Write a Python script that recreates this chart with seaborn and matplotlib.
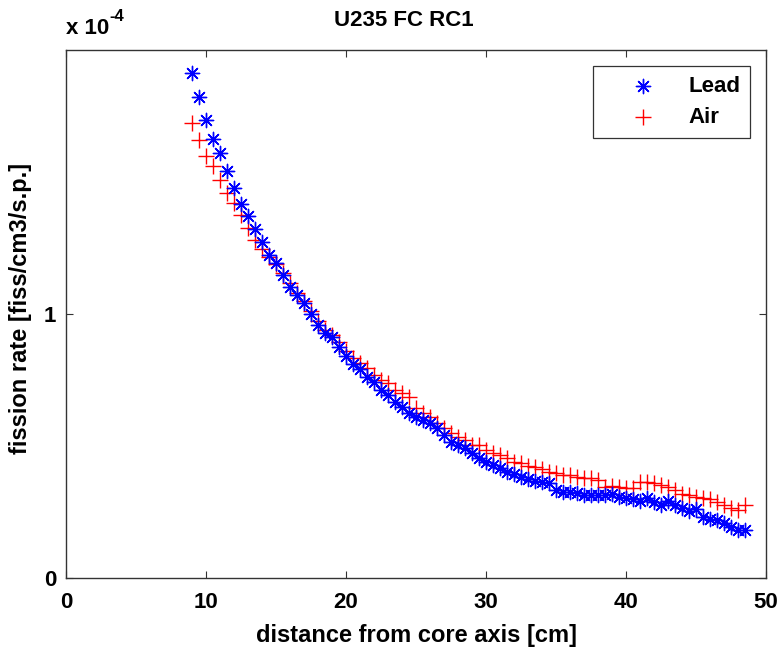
import numpy as np
import pandas as pd
import matplotlib
matplotlib.use("Agg")
import matplotlib.pyplot as plt
import seaborn as sns

# distance from core axis [cm]
distance = [9.0, 9.5, 10.0, 10.5, 11.0, 11.5, 12.0, 12.5, 13.0, 13.5,
            14.0, 14.5, 15.0, 15.5, 16.0, 16.5, 17.0, 17.5, 18.0, 18.5,
            19.0, 19.5, 20.0, 20.5, 21.0, 21.5, 22.0, 22.5, 23.0, 23.5,
            24.0, 24.5, 25.0, 25.5, 26.0, 26.5, 27.0, 27.5, 28.0, 28.5,
            29.0, 29.5, 30.0, 30.5, 31.0, 31.5, 32.0, 32.5, 33.0, 33.5,
            34.0, 34.5, 35.0, 35.5, 36.0, 36.5, 37.0, 37.5, 38.0, 38.5,
            39.0, 39.5, 40.0, 40.5, 41.0, 41.5, 42.0, 42.5, 43.0, 43.5,
            44.0, 44.5, 45.0, 45.5, 46.0, 46.5, 47.0, 47.5, 48.0, 48.5]

# fission rate, units of 1e-4 fiss/cm3/s.p.
lead = [1.913, 1.822, 1.735, 1.663, 1.610, 1.542, 1.477, 1.417, 1.371, 1.322,
        1.273, 1.223, 1.193, 1.148, 1.102, 1.072, 1.042, 1.000, 0.958, 0.928,
        0.913, 0.875, 0.841, 0.811, 0.792, 0.761, 0.742, 0.712, 0.693, 0.667,
        0.648, 0.625, 0.610, 0.598, 0.587, 0.568, 0.542, 0.515, 0.504, 0.492,
        0.473, 0.455, 0.439, 0.428, 0.417, 0.402, 0.394, 0.383, 0.375, 0.367,
        0.364, 0.360, 0.333, 0.326, 0.326, 0.322, 0.314, 0.314, 0.314, 0.314,
        0.318, 0.307, 0.303, 0.299, 0.292, 0.303, 0.288, 0.277, 0.292, 0.277,
        0.265, 0.254, 0.261, 0.231, 0.223, 0.220, 0.208, 0.193, 0.182, 0.182]

air = [1.723, 1.659, 1.598, 1.561, 1.508, 1.458, 1.420, 1.375, 1.326, 1.280,
       1.246, 1.216, 1.189, 1.155, 1.117, 1.080, 1.049, 1.011, 0.973, 0.939,
       0.920, 0.894, 0.860, 0.833, 0.814, 0.795, 0.769, 0.750, 0.739, 0.712,
       0.701, 0.686, 0.644, 0.625, 0.610, 0.587, 0.568, 0.549, 0.534, 0.523,
       0.504, 0.504, 0.485, 0.473, 0.466, 0.455, 0.439, 0.436, 0.424, 0.420,
       0.413, 0.402, 0.398, 0.390, 0.390, 0.383, 0.379, 0.379, 0.371, 0.345,
       0.348, 0.345, 0.341, 0.341, 0.364, 0.364, 0.360, 0.352, 0.345, 0.333,
       0.318, 0.314, 0.307, 0.303, 0.299, 0.288, 0.277, 0.265, 0.258, 0.277]

x_ticks = [0, 10, 20, 30, 40, 50]
y_ticks = [0, 1]

sns.set_style("white")
plt.rcParams['font.family'] = ['Liberation Sans', 'DejaVu Sans']
plt.rcParams['font.weight'] = 'bold'
plt.rcParams['text.color'] = 'black'
plt.rcParams['axes.labelcolor'] = 'black'
plt.rcParams['xtick.color'] = 'black'
plt.rcParams['ytick.color'] = 'black'

FS = 16

fig = plt.figure(figsize=(7.79, 6.5), dpi=100)
ax = fig.add_axes([66/779, 72/650, 700/779, 528/650])

df_lead = pd.DataFrame({"x": distance, "y": lead})
df_air = pd.DataFrame({"x": distance, "y": air})

asterisk = (8, 2, 0)
sns.scatterplot(data=df_lead, x="x", y="y", ax=ax, marker=asterisk, s=105,
                color=(0, 0, 1), edgecolor=(0, 0, 1), linewidth=1.0, label="Lead", zorder=3)
sns.scatterplot(data=df_air, x="x", y="y", ax=ax, marker="+", s=130,
                color=(1, 0, 0), linewidth=1.0, label="Air", zorder=2)

ax.set_xlim(0, 50)
ax.set_ylim(0, 2.0)
ax.set_xticks(x_ticks)
ax.set_yticks(y_ticks)
ax.set_xticklabels([str(t) for t in x_ticks], fontsize=FS, fontweight='bold')
ax.set_yticklabels([str(t) for t in y_ticks], fontsize=FS, fontweight='bold')
ax.tick_params(direction='in', length=5, width=0.8, top=True, right=True,
               bottom=True, left=True, colors='#333333', labelcolor='black')
ax.tick_params(axis='x', pad=10)
ax.tick_params(axis='y', pad=7)
for sp in ax.spines.values():
    sp.set_visible(True)
    sp.set_color('#333333')
    sp.set_linewidth(1.0)

ax.set_title("U235 FC RC1", fontsize=FS, fontweight='bold', pad=17, x=0.483)
ax.set_xlabel("distance from core axis [cm]", fontsize=FS + 1, fontweight='bold', labelpad=8)
ax.set_ylabel("fission rate [fiss/cm3/s.p.]", fontsize=FS + 1, fontweight='bold')
ax.yaxis.set_label_coords(-0.048, 0.51)
ax.text(0.0, 1.02, "x 10", transform=ax.transAxes, ha='left', va='bottom',
        fontsize=FS, fontweight='bold')
ax.text(0.062, 1.05, "-4", transform=ax.transAxes, ha='left', va='bottom',
        fontsize=FS - 4, fontweight='bold')

leg = ax.legend(loc='upper right', fontsize=FS, frameon=True, fancybox=False,
                edgecolor='black', borderpad=0.45, handletextpad=0.25, labelspacing=0.45,
                borderaxespad=0.7, markerscale=1.0, handlelength=3.6)
leg.get_frame().set_linewidth(0.9)
for t in leg.get_texts():
    t.set_fontweight('bold')

fig.savefig("out.png", dpi=100)
